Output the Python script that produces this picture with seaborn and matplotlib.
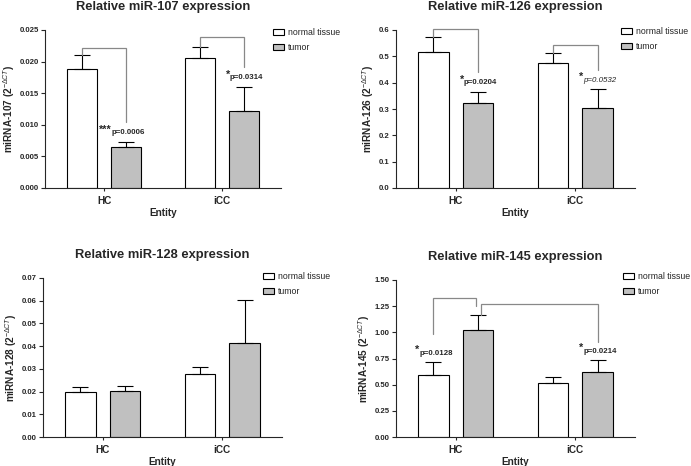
import pandas as pd
import matplotlib
matplotlib.use("Agg")
import matplotlib.pyplot as plt
import seaborn as sns

# Categories
entities = ["HC", "iCC"]
tissues = ["normal tissue", "tumor"]

# Means and SEM (order: HC, iCC)
mir107_normal = [0.0188, 0.0205]
mir107_normal_sem = [0.0022, 0.0018]
mir107_tumor = [0.0065, 0.0122]
mir107_tumor_sem = [0.0008, 0.0038]

mir126_normal = [0.515, 0.474]
mir126_normal_sem = [0.057, 0.038]
mir126_tumor = [0.321, 0.303]
mir126_tumor_sem = [0.044, 0.072]

mir128_normal = [0.0197, 0.0279]
mir128_normal_sem = [0.0022, 0.0029]
mir128_tumor = [0.0203, 0.0414]
mir128_tumor_sem = [0.0022, 0.0191]

mir145_normal = [0.597, 0.515]
mir145_normal_sem = [0.115, 0.060]
mir145_tumor = [1.026, 0.617]
mir145_tumor_sem = [0.140, 0.114]

# Y ticks
mir107_ticks = [0.0, 0.005, 0.010, 0.015, 0.020, 0.025]
mir126_ticks = [0.0, 0.1, 0.2, 0.3, 0.4, 0.5, 0.6]
mir128_ticks = [0.0, 0.01, 0.02, 0.03, 0.04, 0.05, 0.06, 0.07]
mir145_ticks = [0.0, 0.25, 0.50, 0.75, 1.00, 1.25, 1.50]

# p-value labels: (entity, tissue, stars, text, italic)
mir107_pvals = [("HC", "tumor", "***", "p=0.0006", False),
                ("iCC", "tumor", "*", "p=0.0314", False)]
mir126_pvals = [("HC", "tumor", "*", "p=0.0204", False),
                ("iCC", "tumor", "*", "p=0.0532", True)]
mir145_pvals = [("HC", "normal tissue", "*", "p=0.0128", False),
                ("iCC", "tumor", "*", "p=0.0214", False)]

# brackets: (left bar, right bar, top, left end, right end, left shift, right shift)
mir107_brackets = [(("HC", "normal tissue"), ("HC", "tumor"), 0.0222, 0.0210, 0.0104, 0, 0),
                   (("iCC", "normal tissue"), ("iCC", "tumor"), 0.0239, 0.0223, 0.0192, 0, 0)]
mir126_brackets = [(("HC", "normal tissue"), ("HC", "tumor"), 0.6025, 0.572, 0.442, 0, 0),
                   (("iCC", "normal tissue"), ("iCC", "tumor"), 0.544, 0.512, 0.448, 0, 0)]
mir145_brackets = [(("HC", "normal tissue"), ("HC", "tumor"), 1.328, 0.982, 1.252, 0, -0.02),
                   (("HC", "tumor"), ("iCC", "tumor"), 1.268, 1.166, 0.912, 0.02, 0)]

panels = [
    ("Relative miR-107 expression", "miRNA-107", mir107_normal, mir107_normal_sem,
     mir107_tumor, mir107_tumor_sem, mir107_ticks, "{:.3f}", mir107_pvals, mir107_brackets,
     (45, 281, 30, 188), (273, 28)),
    ("Relative miR-126 expression", "miRNA-126", mir126_normal, mir126_normal_sem,
     mir126_tumor, mir126_tumor_sem, mir126_ticks, "{:.1f}", mir126_pvals, mir126_brackets,
     (396, 635, 30, 188), (621, 27)),
    ("Relative miR-128 expression", "miRNA-128", mir128_normal, mir128_normal_sem,
     mir128_tumor, mir128_tumor_sem, mir128_ticks, "{:.2f}", [], [],
     (43, 282, 278, 437), (263, 272)),
    ("Relative miR-145 expression", "miRNA-145", mir145_normal, mir145_normal_sem,
     mir145_tumor, mir145_tumor_sem, mir145_ticks, "{:.2f}", mir145_pvals, mir145_brackets,
     (396, 635, 280, 437), (623, 272)),
]

sns.set_style("ticks")
plt.rcParams["font.family"] = ["Liberation Sans", "DejaVu Sans"]
plt.rcParams["mathtext.fontset"] = "custom"
plt.rcParams["mathtext.rm"] = "Liberation Sans"
plt.rcParams["mathtext.it"] = "Liberation Sans:italic"
plt.rcParams["mathtext.bf"] = "Liberation Sans:bold"

W, H = 691, 466
fig = plt.figure(figsize=(W / 100, H / 100), dpi=100)
palette = {"normal tissue": "white", "tumor": "#c0c0c0"}

for (title, gene, n_vals, n_sem, t_vals, t_sem, ticks, fmt, pvals, brackets,
     box, leg_pos) in panels:
    l, r, t, b = box
    ax = fig.add_axes([l / W, 1 - b / H, (r - l) / W, (b - t) / H])

    df = pd.DataFrame({
        "entity": entities * 2,
        "tissue": [tissues[0]] * 2 + [tissues[1]] * 2,
        "value": n_vals + t_vals,
    })
    sems = {tissues[0]: n_sem, tissues[1]: t_sem}

    sns.barplot(data=df, x="entity", y="value", hue="tissue", order=entities,
                hue_order=tissues, palette=palette, edgecolor="black",
                linewidth=0.8, width=0.75, gap=0.32, errorbar=None,
                saturation=1, legend=False, ax=ax)
    bar_conts = list(ax.containers)

    centers = {}
    for tissue, cont in zip(tissues, bar_conts):
        xs = [p.get_x() + p.get_width() / 2 for p in cont.patches]
        ys = [p.get_height() for p in cont.patches]
        err = sems[tissue]
        ax.errorbar(xs, ys, yerr=[[0] * len(err), err], fmt="none",
                    ecolor="black", elinewidth=0.8, capsize=6, capthick=0.8,
                    zorder=1)
        for ent, x, y, e in zip(entities, xs, ys, err):
            centers[(ent, tissue)] = (x, y + e)

    # brackets
    for left, right, top, lend, rend, ls, rs in brackets:
        x0 = centers[left][0] + ls
        x1 = centers[right][0] + rs
        ax.plot([x0, x0, x1, x1], [lend, top, top, rend], color="#888888",
                lw=0.9, clip_on=False, solid_joinstyle="miter")

    # p-values
    for ent, tissue, stars, ptxt, italic in pvals:
        x, ytop = centers[(ent, tissue)]
        txt = ax.annotate(ptxt, xy=(x, ytop), xytext=(1.8, 6.5),
                          textcoords="offset points", ha="center", va="center",
                          fontsize=5.7,
                          fontweight="normal" if italic else "bold",
                          fontstyle="italic" if italic else "normal")
        ax.annotate(stars, xy=(0, 0.95), xycoords=txt, ha="right",
                    va="center", fontsize=7.8, fontweight="bold")

    ax.set_xlim(-0.5, 1.5)
    ax.set_ylim(ticks[0], ticks[-1])
    ax.set_yticks(ticks)
    ax.set_yticklabels([fmt.format(v) for v in ticks], fontsize=5.6,
                       fontweight="bold")
    ax.set_xticks(range(len(entities)))
    ax.set_xticklabels(entities, fontsize=7.2, fontweight="bold")
    ax.tick_params(axis="y", length=3, width=0.8, pad=1.5)
    ax.tick_params(axis="x", length=2.5, width=0.8, pad=3)
    ax.set_xlabel("Entity", fontsize=7.2, fontweight="bold", labelpad=2)
    ax.set_ylabel(gene + r" (2$^{-\Delta CT}$)", fontsize=7.2,
                  fontweight="bold", labelpad=2)
    ax.set_title(title, fontsize=9.3, fontweight="bold", pad=14.5)
    for s in ["left", "bottom"]:
        ax.spines[s].set_linewidth(0.8)
    sns.despine(ax=ax)

    handles = [cont.patches[0] for cont in bar_conts]
    ax.legend(handles, tissues, loc="upper left",
              bbox_to_anchor=(leg_pos[0] / W, 1 - leg_pos[1] / H),
              bbox_transform=fig.transFigure, frameon=False, borderpad=0,
              borderaxespad=0, handlelength=1.25, handleheight=0.57,
              handletextpad=0.45, labelspacing=0.7,
              prop={"size": 6.3, "weight": "normal"})

fig.savefig("out.png", dpi=100)
